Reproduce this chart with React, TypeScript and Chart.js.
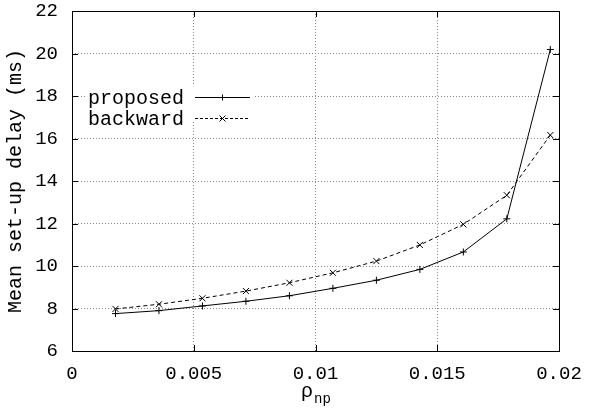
import React, { useEffect, useRef } from "react";
import { Chart, registerables } from "chart.js";

Chart.register(...registerables);

const xValues = [0.001786, 0.003571, 0.005357, 0.007143, 0.008929, 0.010714, 0.0125, 0.014286, 0.016071, 0.017857, 0.019643];
const proposed = [7.76, 7.9, 8.12, 8.34, 8.6, 8.95, 9.33, 9.84, 10.66, 12.22, 20.19];
const backward = [7.98, 8.2, 8.48, 8.82, 9.21, 9.68, 10.23, 10.99, 11.96, 13.33, 16.16];
const seriesLabels = ["proposed", "backward"];
const xTicks = [0, 0.005, 0.01, 0.015, 0.02];
const xTickLabels = ["0", "0.005", "0.01", "0.015", "0.02"];
const yTicks = [6, 8, 10, 12, 14, 16, 18, 20, 22];
const yTitle = "Mean set-up delay (ms)";
const xTitleMain = "ρ";
const xTitleSub = "np";

const FONT = "'Liberation Mono', 'DejaVu Sans Mono', monospace";

function drawMarker(ctx: CanvasRenderingContext2D, style: string, x: number, y: number) {
  ctx.beginPath();
  if (style === "cross") {
    ctx.moveTo(x - 3, y);
    ctx.lineTo(x + 3, y);
    ctx.moveTo(x, y - 3);
    ctx.lineTo(x, y + 3);
  } else {
    ctx.moveTo(x - 3, y - 3);
    ctx.lineTo(x + 3, y + 3);
    ctx.moveTo(x - 3, y + 3);
    ctx.lineTo(x + 3, y - 3);
  }
  ctx.stroke();
}

const decorPlugin = {
  id: "decor",
  afterDraw(chart: any) {
    const ctx: CanvasRenderingContext2D = chart.ctx;
    const a = chart.chartArea;
    const xs = chart.scales.x;
    const ys = chart.scales.y;
    ctx.save();
    ctx.strokeStyle = "#000";
    ctx.lineWidth = 1;
    ctx.setLineDash([]);
    // frame
    ctx.strokeRect(Math.round(a.left) + 0.5, Math.round(a.top) + 0.5, Math.round(a.right - a.left), Math.round(a.bottom - a.top));
    // inner tick marks
    const tl = 6;
    ctx.beginPath();
    xTicks.forEach((t) => {
      const px = Math.round(xs.getPixelForValue(t)) + 0.5;
      ctx.moveTo(px, a.bottom);
      ctx.lineTo(px, a.bottom - tl);
      ctx.moveTo(px, a.top);
      ctx.lineTo(px, a.top + tl);
    });
    yTicks.forEach((t) => {
      const py = Math.round(ys.getPixelForValue(t)) + 0.5;
      ctx.moveTo(a.left, py);
      ctx.lineTo(a.left + tl, py);
      ctx.moveTo(a.right, py);
      ctx.lineTo(a.right - tl, py);
    });
    ctx.stroke();

    // legend
    ctx.fillStyle = "#fff";
    ctx.fillRect(86, 84, 168, 38);
    ctx.fillStyle = "#000";
    ctx.font = `20px ${FONT}`;
    ctx.textAlign = "right";
    ctx.textBaseline = "middle";
    const rows = [
      { label: seriesLabels[0], y: 97.5, dash: [] as number[], marker: "cross" },
      { label: seriesLabels[1], y: 118.5, dash: [3, 2], marker: "crossRot" },
    ];
    rows.forEach((r) => {
      ctx.fillText(r.label, 184, r.y + 1);
      ctx.setLineDash(r.dash);
      ctx.beginPath();
      ctx.moveTo(195, r.y);
      ctx.lineTo(250, r.y);
      ctx.stroke();
      ctx.setLineDash([]);
      drawMarker(ctx, r.marker, 222.5, r.y);
    });

    // y title
    ctx.save();
    ctx.translate(16, (a.top + a.bottom) / 2);
    ctx.rotate(-Math.PI / 2);
    ctx.textAlign = "center";
    ctx.textBaseline = "middle";
    ctx.font = `20px ${FONT}`;
    ctx.fillText(yTitle, 0, 0);
    ctx.restore();

    // x title
    ctx.textAlign = "left";
    ctx.textBaseline = "alphabetic";
    ctx.font = `20px ${FONT}`;
    const mainW = ctx.measureText(xTitleMain).width;
    ctx.font = `14px ${FONT}`;
    const subW = ctx.measureText(xTitleSub).width;
    const cx = (a.left + a.right) / 2;
    const startX = cx - (mainW + subW) / 2;
    ctx.font = `20px ${FONT}`;
    ctx.fillText(xTitleMain, startX, 397);
    ctx.font = `14px ${FONT}`;
    ctx.fillText(xTitleSub, startX + mainW + 1, 403);
    ctx.restore();
  },
};

export default function App() {
  const ref = useRef<HTMLCanvasElement | null>(null);
  useEffect(() => {
    document.body.style.margin = "0";
    const canvas = ref.current!;
    const chart = new Chart(canvas, {
      type: "line",
      data: {
        datasets: [
          {
            label: seriesLabels[0],
            data: xValues.map((x, i) => ({ x, y: proposed[i] })),
            borderColor: "#000",
            backgroundColor: "#000",
            borderWidth: 1,
            pointStyle: "cross",
            pointRadius: 3.5,
            pointBorderWidth: 1,
            pointBorderColor: "#000",
            tension: 0,
            fill: false,
          },
          {
            label: seriesLabels[1],
            data: xValues.map((x, i) => ({ x, y: backward[i] })),
            borderColor: "#000",
            backgroundColor: "#000",
            borderWidth: 1,
            borderDash: [4, 3],
            pointStyle: "crossRot",
            pointRadius: 4.3,
            pointBorderWidth: 1,
            pointBorderColor: "#000",
            tension: 0,
            fill: false,
          },
        ],
      },
      options: {
        animation: false,
        responsive: false,
        maintainAspectRatio: false,
        layout: { padding: { top: 11, right: 33, left: 0, bottom: 0 } },
        plugins: { legend: { display: false }, tooltip: { enabled: false }, title: { display: false } },
        scales: {
          x: {
            type: "linear",
            min: 0,
            max: 0.02,
            afterBuildTicks: (s: any) => {
              s.ticks = xTicks.map((v) => ({ value: v }));
            },
            afterFit: (s: any) => {
              s.height = 66;
              s.paddingLeft = 0;
              s.paddingRight = 0;
            },
            ticks: {
              callback: (v: any) => {
                const i = xTicks.indexOf(v);
                return i >= 0 ? xTickLabels[i] : String(v);
              },
              color: "#000",
              font: { family: FONT, size: 19 },
              padding: 12,
              maxRotation: 0,
              autoSkip: false,
            },
            grid: { color: "#8a8a8a", lineWidth: 1, drawTicks: false },
            border: { display: false, dash: [1, 2] },
          },
          y: {
            type: "linear",
            min: 6,
            max: 22,
            afterBuildTicks: (s: any) => {
              s.ticks = yTicks.map((v) => ({ value: v }));
            },
            afterFit: (s: any) => {
              s.width = 72;
              s.paddingTop = 0;
              s.paddingBottom = 0;
            },
            ticks: {
              callback: (v: any) => String(v),
              color: "#000",
              font: { family: FONT, size: 19 },
              padding: 14,
              autoSkip: false,
            },
            grid: { color: "#8a8a8a", lineWidth: 1, drawTicks: false },
            border: { display: false, dash: [1, 2] },
          },
        },
      },
      plugins: [decorPlugin],
    });
    return () => chart.destroy();
  }, []);
  return (
    <div style={{ width: 592, height: 417 }}>
      <canvas ref={ref} width={592} height={417} style={{ display: "block" }} />
    </div>
  );
}
